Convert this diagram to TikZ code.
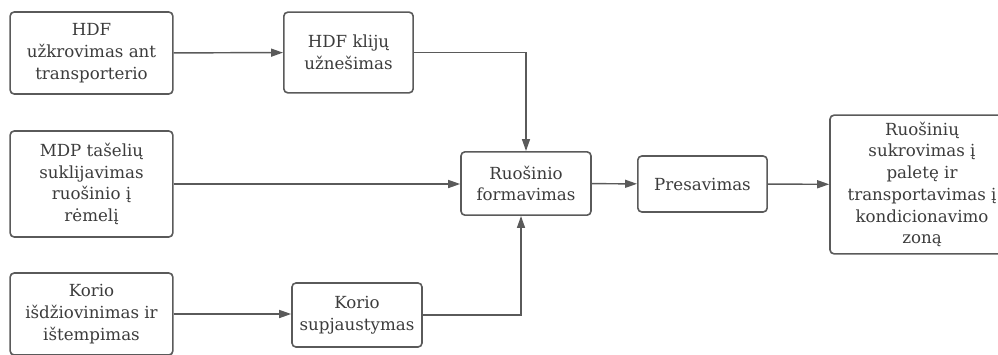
\documentclass[tikz,border=0pt]{standalone}
\usepackage{fontspec}
\setmainfont{DejaVu Serif}
\usepackage{tikz}
\usetikzlibrary{arrows.meta,calc}

\definecolor{linegray}{HTML}{5A5A5A}
\definecolor{textgray}{HTML}{3C3C3C}

\tikzset{
  procbox/.style={draw=linegray, line width=1.2pt, rounded corners=3pt,
    fill=white, text=textgray, align=center, inner sep=0pt,
    font=\fontsize{12.5}{16.3}\selectfont},
  flow/.style={draw=linegray, line width=1.1pt,
    -{Triangle[length=9pt,width=6pt]}}
}

\begin{document}
\begin{tikzpicture}[x=0.75pt,y=-0.75pt]
  \useasboundingbox (0,0) rectangle (998,354);

  % Input steps (left column)
  \node[procbox, minimum width=122pt, minimum height=61.5pt] (hdfload) at (91.5,53)
    {HDF\\užkrovimas ant\\transporterio};
  \node[procbox, minimum width=122pt, minimum height=79.5pt] (mdp) at (91.5,184)
    {MDP tašelių\\suklijavimas\\ruošinio į\\rėmelį};
  \node[procbox, minimum width=122pt, minimum height=61.5pt] (koriodry) at (91.5,314)
    {Korio\\išdžiovinimas ir\\ištempimas};

  % Second column
  \node[procbox, minimum width=97pt, minimum height=60.5pt] (hdfglue) at (348.5,52.5)
    {HDF klijų\\užnešimas};
  \node[procbox, minimum width=97.5pt, minimum height=48pt] (koriocut) at (357,315)
    {Korio\\supjaustymas};

  % Main line
  \node[procbox, minimum width=97.5pt, minimum height=47.5pt] (forming) at (526,183.5)
    {Ruošinio\\formavimas};
  \node[procbox, minimum width=97pt, minimum height=42pt] (press) at (702.5,184)
    {Presavimas};
  \node[procbox, minimum width=138pt, minimum height=104pt] (stack) at (922,184.5)
    {Ruošinių\\sukrovimas į\\paletę ir\\transportavimas į\\kondicionavimo\\zoną};

  % Connectors
  \draw[flow] (hdfload) -- (hdfglue);
  \draw[flow] (hdfglue.east) -| (forming.north);
  \draw[flow] (mdp.east) -- (mdp.east -| forming.west);
  \draw[flow] (koriodry.east) -- (koriodry.east -| koriocut.west);
  \draw[flow] (koriocut.east) -| ([xshift=-3.75pt]forming.south);
  \draw[flow] (forming) -- (press);
  \draw[flow] (press) -- (stack);

\end{tikzpicture}
\end{document}
